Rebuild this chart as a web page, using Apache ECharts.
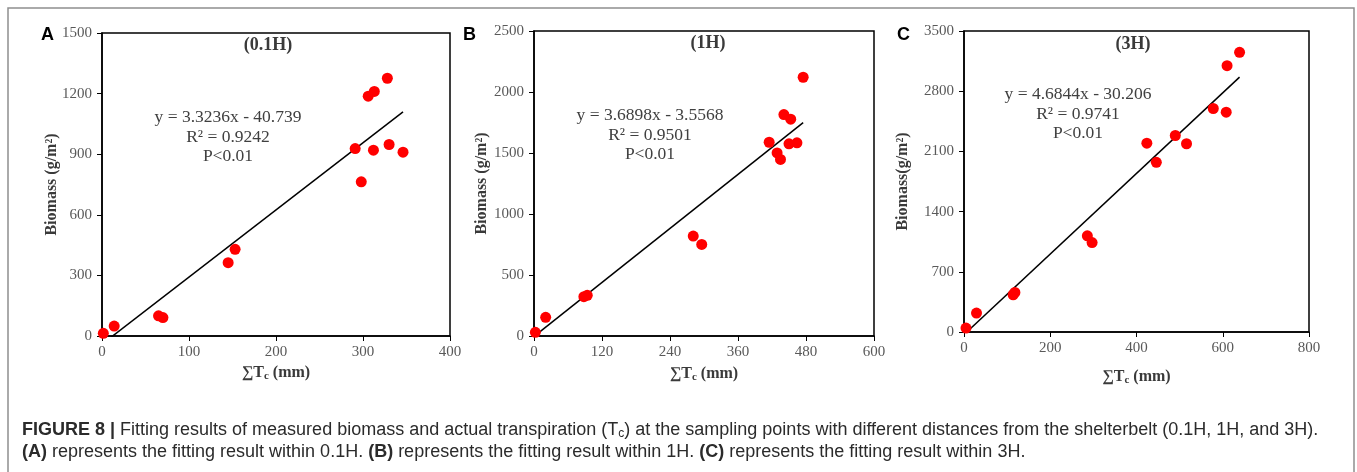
<!DOCTYPE html>
<html>
<head>
<meta charset="utf-8">
<script src="https://cdn.jsdelivr.net/npm/echarts@6/dist/echarts.min.js"></script>
<style>
  html, body { margin: 0; padding: 0; background: #fff; }
  #chart { width: 1357px; height: 472px; }
</style>
</head>
<body>
<div id="chart"></div>
<script>
// ---- Measured data: cumulative transpiration ΣTc (mm) vs. biomass (g/m²) ----
// 0.1H
const tcA  = [1.5, 14, 65, 70, 145, 153, 291, 298, 306, 313, 312, 328, 330, 346];
const bioA = [13, 49, 100, 91, 363, 429, 928, 763, 1187, 1211, 920, 1276, 948, 910];
// 1H
const tcB  = [2.4, 20.6, 88, 94, 281, 296, 415, 429, 435, 441, 453, 450, 464, 475];
const bioB = [30, 153, 322, 333, 819, 751, 1588, 1501, 1447, 1815, 1777, 1575, 1583, 2121];
// 3H
const tcC  = [4.6, 29, 114, 118, 286, 297, 424, 446, 490, 516, 578, 608, 610, 639];
const bioC = [46, 220, 433, 460, 1118, 1040, 2196, 1973, 2285, 2189, 2599, 2556, 3097, 3252];

// Linear fits: [slope, intercept], and goodness of fit
const fitA = [3.3236, -40.739];
const fitB = [3.6898, -3.5568];
const fitC = [4.6844, -30.206];
const r2A = '0.9242', r2B = '0.9501', r2C = '0.9741';
const pText = 'P<0.01';

// Axis ticks
const xTicksA = [0, 100, 200, 300, 400];
const yTicksA = [0, 300, 600, 900, 1200, 1500];
const xTicksB = [0, 120, 240, 360, 480, 600];
const yTicksB = [0, 500, 1000, 1500, 2000, 2500];
const xTicksC = [0, 200, 400, 600, 800];
const yTicksC = [0, 700, 1400, 2100, 2800, 3500];

const panelTitles = ['(0.1H)', '(1H)', '(3H)'];
const panelLetters = ['A', 'B', 'C'];
const yNames = ['Biomass (g/m²)', 'Biomass (g/m²)', 'Biomass(g/m²)'];
const xName = '∑T{sub|c} (mm)';

const SERIF = '"Liberation Serif", "Times New Roman", serif';
const SANS = '"Liberation Sans", Arial, Helvetica, sans-serif';

// panel geometry (pixels)
const grids = [
  { left: 102, top: 33, width: 348, height: 303 },
  { left: 534, top: 31, width: 340, height: 305 },
  { left: 964, top: 31, width: 345, height: 301 }
];
const yNameGap = [42, 44, 53];
const xNameGap = [27, 28, 35];

function eqLines(fit, r2) {
  const b = fit[1];
  return 'y = ' + fit[0] + 'x ' + (b < 0 ? '- ' : '+ ') + Math.abs(b) + '\nR² = ' + r2 + '\n' + pText;
}

function fitLine(fit, xs) {
  const x0 = Math.min(...xs), x1 = Math.max(...xs);
  return [[x0, fit[0] * x0 + fit[1]], [x1, fit[0] * x1 + fit[1]]];
}

const plain = v => String(v);

function xAxisOf(ticks, i) {
  return {
    type: 'value', gridIndex: i,
    min: ticks[0], max: ticks[ticks.length - 1], interval: ticks[1] - ticks[0],
    axisLine: { show: true, lineStyle: { color: '#000', width: 1.5 } },
    axisTick: { show: true, inside: false, length: 5, lineStyle: { color: '#000', width: 1 } },
    splitLine: { show: false },
    axisLabel: { color: '#595959', fontFamily: SERIF, fontSize: 15, margin: 9, formatter: plain },
    name: xName, nameLocation: 'middle', nameGap: xNameGap[i], nameMoveOverlap: false,
    nameTextStyle: {
      color: '#3a3a3a', fontFamily: SERIF, fontWeight: 'bold', fontSize: 16,
      rich: { sub: { fontFamily: SERIF, fontWeight: 'bold', fontSize: 11, color: '#3a3a3a', padding: [8, 0, 0, 0] } }
    }
  };
}

function yAxisOf(ticks, i) {
  return {
    type: 'value', gridIndex: i,
    min: ticks[0], max: ticks[ticks.length - 1], interval: ticks[1] - ticks[0],
    axisLine: { show: true, lineStyle: { color: '#000', width: 1.5 } },
    axisTick: { show: true, inside: false, length: 5, lineStyle: { color: '#000', width: 1 } },
    splitLine: { show: false },
    axisLabel: { color: '#595959', fontFamily: SERIF, fontSize: 15, margin: 10, formatter: plain },
    name: yNames[i], nameLocation: 'middle', nameGap: yNameGap[i], nameMoveOverlap: false,
    nameTextStyle: { color: '#3a3a3a', fontFamily: SERIF, fontWeight: 'bold', fontSize: 16 }
  };
}

const xs = [tcA, tcB, tcC], ys = [bioA, bioB, bioC], fits = [fitA, fitB, fitC];

const series = [];
for (let i = 0; i < 3; i++) {
  series.push({
    type: 'line', xAxisIndex: i, yAxisIndex: i,
    data: fitLine(fits[i], xs[i]), symbol: 'none', clip: true,
    lineStyle: { color: '#000', width: 1.5 }, silent: true, z: 2
  });
  series.push({
    type: 'scatter', xAxisIndex: i, yAxisIndex: i,
    data: xs[i].map((x, k) => [x, ys[i][k]]),
    symbol: 'circle', symbolSize: 11,
    itemStyle: { color: '#ff0000', opacity: 1 }, z: 3
  });
}

const eqPos = [[228, 108], [650, 106], [1078, 85]];
const titlePos = [[268, 45], [708, 43], [1133, 44]];
const letterPos = [[41, 26], [463, 26], [897, 26]];
const eqTexts = [eqLines(fitA, r2A), eqLines(fitB, r2B), eqLines(fitC, r2C)];

const graphic = [
  { type: 'rect', shape: { x: 8, y: 8, width: 1346, height: 490 },
    style: { fill: 'none', stroke: '#8e8e8e', lineWidth: 1.5 }, silent: true }
];
for (let i = 0; i < 3; i++) {
  graphic.push({
    type: 'text', x: letterPos[i][0], y: letterPos[i][1],
    style: { text: panelLetters[i], font: 'bold 18px ' + SANS, fill: '#000', textVerticalAlign: 'top' }
  });
  graphic.push({
    type: 'text', x: titlePos[i][0], y: titlePos[i][1],
    style: { text: panelTitles[i], font: 'bold 18px ' + SERIF, fill: '#3a3a3a', align: 'center', verticalAlign: 'middle' }
  });
  graphic.push({
    type: 'text', x: eqPos[i][0], y: eqPos[i][1],
    style: { text: eqTexts[i], font: '17.5px ' + SERIF, fill: '#404040', align: 'center', verticalAlign: 'top', lineHeight: 19.5 }
  });
}

// caption
const capRich = {
  b: { font: 'bold 18px ' + SANS, fill: '#2b2b2b' },
  sub: { font: '12px ' + SANS, fill: '#2b2b2b', padding: [8, 0, 0, 0] }
};
graphic.push({
  type: 'text', x: 22, y: 430,
  style: {
    text: '{b|FIGURE 8 |} Fitting results of measured biomass and actual transpiration (T{sub|c}) at the sampling points with different distances from the shelterbelt (0.1H, 1H, and 3H).',
    font: '18px ' + SANS, fill: '#2b2b2b', verticalAlign: 'middle', rich: capRich
  }
});
graphic.push({
  type: 'text', x: 22, y: 452,
  style: {
    text: '{b|(A)} represents the fitting result within 0.1H. {b|(B)} represents the fitting result within 1H. {b|(C)} represents the fitting result within 3H.',
    font: '18px ' + SANS, fill: '#2b2b2b', verticalAlign: 'middle', rich: capRich
  }
});

const option = {
  animation: false,
  backgroundColor: '#fff',
  grid: grids.map(g => Object.assign({ show: true, borderColor: '#000', borderWidth: 1.5, backgroundColor: 'transparent', containLabel: false }, g)),
  xAxis: [xAxisOf(xTicksA, 0), xAxisOf(xTicksB, 1), xAxisOf(xTicksC, 2)],
  yAxis: [yAxisOf(yTicksA, 0), yAxisOf(yTicksB, 1), yAxisOf(yTicksC, 2)],
  series: series,
  graphic: graphic
};

const chart = echarts.init(document.getElementById('chart'), null, { renderer: 'canvas' });
chart.setOption(option);
</script>
</body>
</html>
